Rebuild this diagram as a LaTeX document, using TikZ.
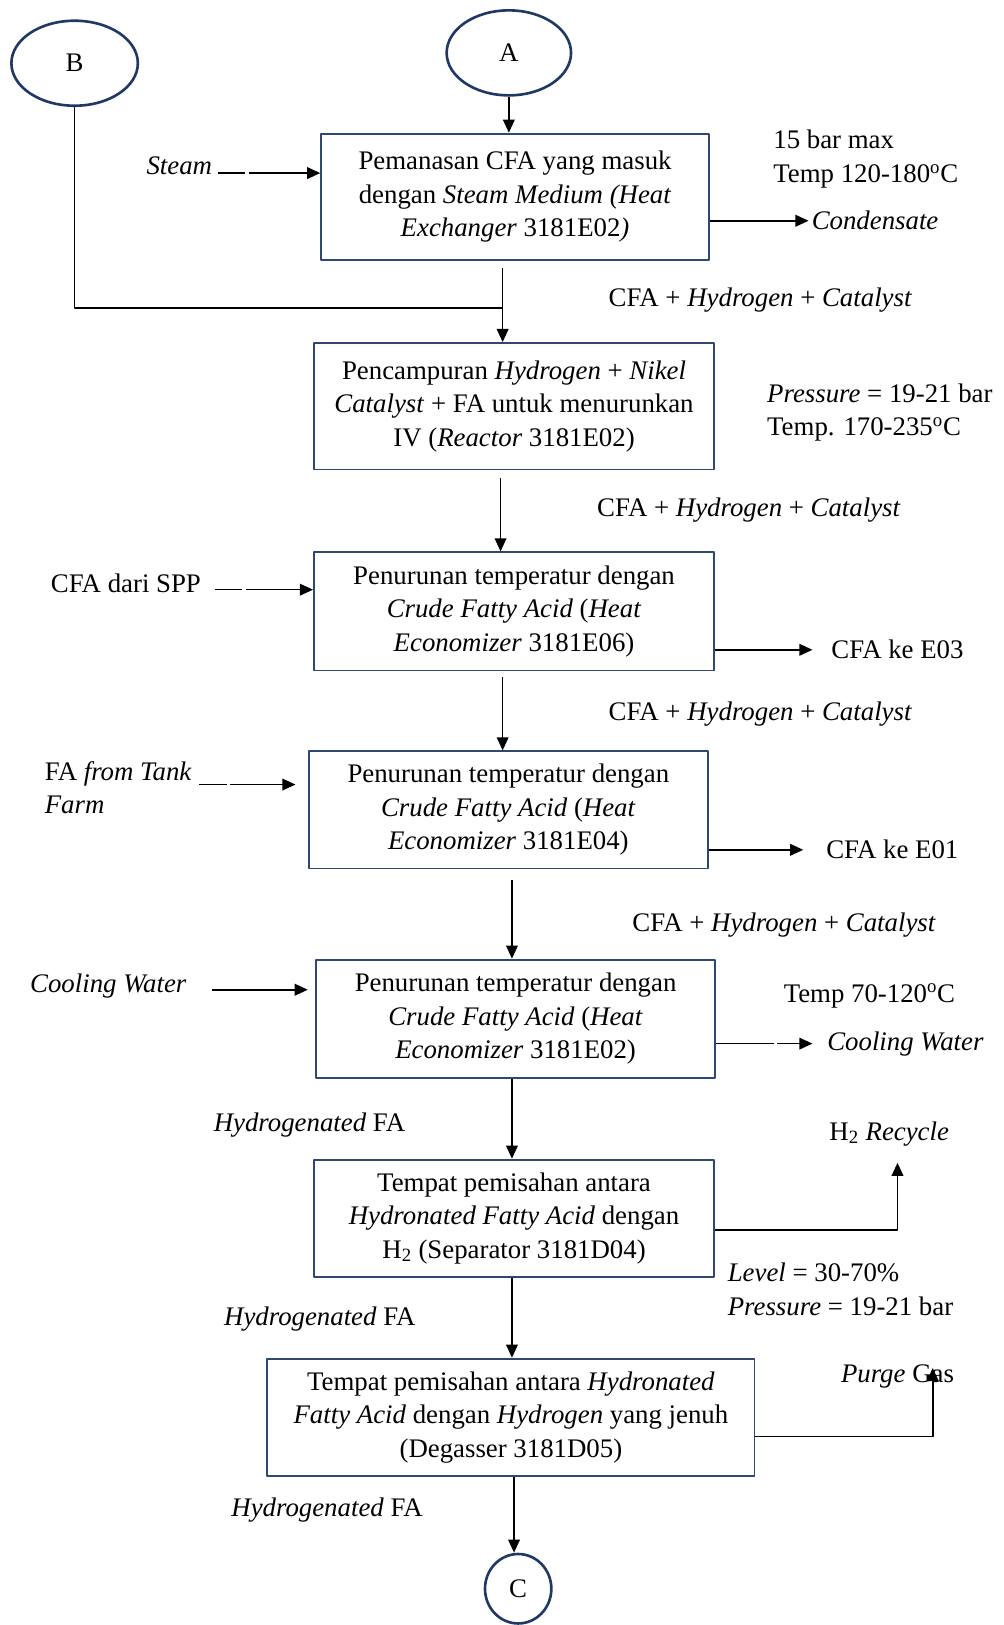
\documentclass[tikz,border=0pt]{standalone}
\usepackage{fontspec}
\setmainfont{Liberation Serif}
\usetikzlibrary{arrows.meta,shapes.geometric}
\definecolor{navy}{RGB}{31,56,100}
\definecolor{boxnavy}{RGB}{47,72,115}
\begin{document}
\begin{tikzpicture}[x=0.025cm, y=-0.025cm, font=\fontsize{18.4}{23}\selectfont, line join=round,
		>={Triangle[length=9pt,width=8pt]},
		proc/.style={draw=boxnavy, line width=1.3pt, inner sep=0pt, align=center},
		conn/.style={draw=navy, line width=1.8pt, ellipse, inner sep=0pt},
		flow/.style={->, line width=1.1pt},
		feed/.style={flow, dash pattern=on 19pt off 2.5pt on 300pt off 1pt},
		lbl/.style={inner sep=0pt}]
	\useasboundingbox (0,0) rectangle (968,1568);
	\node[conn, minimum width=3.05cm, minimum height=2.05cm] (B) at (72,61) {B};
	\node[conn, minimum width=3cm, minimum height=2.05cm] (A) at (491,51) {A};
	\node[conn, minimum width=1.6cm, minimum height=1.675cm] (C) at (500,1533) {C};
	\node[proc, minimum width=9.35cm, minimum height=3.05cm] (he1) at (497,190) {Pemanasan CFA yang masuk\\dengan \textit{Steam Medium (Heat}\\\textit{Exchanger} 3181E02\textit{)}};
	\node[proc, minimum width=9.65cm, minimum height=3.05cm] (rx) at (496,392) {Pencampuran \textit{Hydrogen} + \textit{Nikel}\\\textit{Catalyst} + FA untuk menurunkan\\IV (\textit{Reactor} 3181E02)};
	\node[proc, minimum width=9.65cm, minimum height=2.85cm] (ec1) at (496,590) {Penurunan temperatur dengan\\\textit{Crude Fatty Acid} (\textit{Heat}\\\textit{Economizer} 3181E06)};
	\node[proc, minimum width=9.625cm, minimum height=2.825cm] (ec2) at (490.5,781.5) {Penurunan temperatur dengan\\\textit{Crude Fatty Acid} (\textit{Heat}\\\textit{Economizer} 3181E04)};
	\node[proc, minimum width=9.625cm, minimum height=2.85cm] (ec3) at (497.5,983) {Penurunan temperatur dengan\\\textit{Crude Fatty Acid} (\textit{Heat}\\\textit{Economizer} 3181E02)};
	\node[proc, minimum width=9.65cm, minimum height=2.825cm] (sep) at (496,1175.5) {Tempat pemisahan antara\\\textit{Hydronated Fatty Acid} dengan\\H\textsubscript{2} (Separator 3181D04)};
	\node[proc, minimum width=11.75cm, minimum height=2.825cm] (deg) at (493,1367.5) {Tempat pemisahan antara \textit{Hydronated}\\\textit{Fatty Acid} dengan \textit{Hydrogen} yang jenuh\\(Degasser 3181D05)};
	\node[lbl] (stm) at (173,160) {\textit{Steam}};
	\node[lbl, anchor=west, align=left] (he1c) at (746,153.5) {15 bar max\\Temp 120-180\textsuperscript{o}C};
	\node[lbl, anchor=west] (cond) at (783,213) {\textit{Condensate}};
	\node[lbl, anchor=west] (f1) at (587,290) {CFA + \textit{Hydrogen} + \textit{Catalyst}};
	\node[lbl, anchor=west, align=left] (rxc) at (740,398) {\textit{Pressure} = 19-21 bar\\Temp. 170-235\textsuperscript{o}C};
	\node[lbl, anchor=west] (f2) at (576,492) {CFA + \textit{Hydrogen} + \textit{Catalyst}};
	\node[lbl] (spp) at (121.5,563) {CFA dari SPP};
	\node[lbl, anchor=west] (e03) at (802,627) {CFA ke E03};
	\node[lbl, anchor=west] (f3) at (587,689) {CFA + \textit{Hydrogen} + \textit{Catalyst}};
	\node[lbl, anchor=west, align=left] (tank) at (43,760) {FA \textit{from Tank}\\\textit{Farm}};
	\node[lbl, anchor=west] (e01) at (797,820) {CFA ke E01};
	\node[lbl, anchor=west] (f4) at (610,893) {CFA + \textit{Hydrogen} + \textit{Catalyst}};
	\node[lbl] (cwin) at (104.5,951) {\textit{Cooling Water}};
	\node[lbl, anchor=west] (ec3c) at (756,961) {Temp 70-120\textsuperscript{o}C};
	\node[lbl, anchor=west] (cwout) at (798,1007) {\textit{Cooling Water}};
	\node[lbl, anchor=west] (hfa1) at (206,1086) {\textit{Hydrogenated} FA};
	\node[lbl] (rec) at (858,1094) {H\textsubscript{2} \textit{Recycle}};
	\node[lbl, anchor=west, align=left] (sepc) at (702,1244) {\textit{Level} = 30-70\%\\\textit{Pressure} = 19-21 bar};
	\node[lbl, anchor=west] (hfa2) at (216,1273) {\textit{Hydrogenated} FA};
	\node[lbl] (purge) at (866,1328) {\textit{Purge} Gas};
	\node[lbl, anchor=west] (hfa3) at (223,1457) {\textit{Hydrogenated} FA};
	\path (210,167) coordinate (stmE)
		(485,297) coordinate (jn)
		(207,569) coordinate (sppE)
		(192,757) coordinate (tankE)
		(205,955) coordinate (cwE)
		(694,1187) coordinate (recS)
		(866,1122) coordinate (recT)
		(728,1386) coordinate (purS)
		(900,1320) coordinate (purT);
	\draw[flow] (A.south) -- (A.south |- he1.north);
	\draw[line width=1.1pt] (B.south) |- (jn);
	\draw[flow] ([yshift=-5pt]jn |- he1.south) -- (jn |- rx.north);
	\foreach \a/\b/\x/\g in {rx/ec1/483/5pt, ec1/ec2/485/4pt, ec2/ec3/494/7pt, ec3/sep/494/0pt, sep/deg/494/0pt, deg/C/496/0pt}{
		\draw[flow, shorten <=\g] (\x,0 |- \a.south) -- (\x,0 |- \b.north);
	}
	\draw[feed] (stmE) -- (stmE -| he1.west);
	\draw[feed] (sppE) -- (sppE -| ec1.west);
	\draw[feed, shorten >=8.5pt] (tankE) -- (tankE -| ec2.west);
	\draw[flow, shorten >=5pt] (cwE) -- (cwE -| ec3.west);
	\draw[flow, shorten >=2pt] (he1.east |- cond) -- (cond.west);
	\draw[flow, shorten >=12.8pt] (ec1.east |- e03) -- (e03.west);
	\draw[flow, shorten >=15.6pt] (ec2.east |- e01) -- (e01.west);
	\draw[feed, dash pattern=on 40pt off 2pt on 300pt off 1pt, shorten >=10pt] (ec3.east |- cwout) -- (cwout.west);
	\draw[flow] (sep.east |- recS) -| (recT);
	\draw[flow] (deg.east |- purS) -| (purT);
\end{tikzpicture}
\end{document}
